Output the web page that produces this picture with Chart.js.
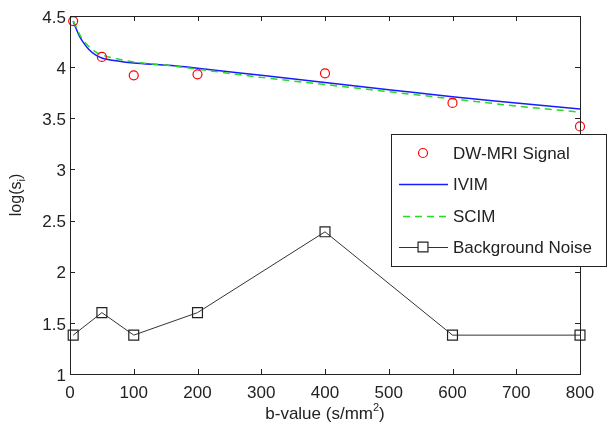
<!DOCTYPE html>
<html>
<head>
<meta charset="utf-8">
<script src="https://cdn.jsdelivr.net/npm/chart.js@4/dist/chart.umd.min.js"></script>
<style>
  html, body { margin: 0; padding: 0; background: #fff; overflow: hidden; }
  #plot { display: block; }
</style>
</head>
<body>
<canvas id="plot" width="610" height="430"></canvas>
<script>
// ---------- DATA ----------
const signalB = [5, 50, 100, 200, 400, 600, 800];
const signalVals = [4.45, 4.10, 3.92, 3.93, 3.94, 3.65, 3.42];

const curveB = [5, 10, 15, 20, 30, 40, 50, 75, 100, 150, 200, 300, 400, 500, 600, 700, 800];
const ivimVals = [4.45, 4.37, 4.30, 4.25, 4.17, 4.12, 4.09, 4.06, 4.04, 4.02, 3.99, 3.92, 3.85, 3.78, 3.71, 3.65, 3.59];
const scimVals = [4.45, 4.39, 4.32, 4.27, 4.20, 4.15, 4.12, 4.08, 4.05, 4.02, 3.98, 3.90, 3.83, 3.76, 3.69, 3.62, 3.56];

const noiseB = [5, 50, 100, 200, 400, 600, 800];
const noiseVals = [1.38, 1.60, 1.38, 1.60, 2.39, 1.38, 1.38];

const legendLabels = ["DW-MRI Signal", "IVIM", "SCIM", "Background Noise"];
const xTitle = "b-value (s/mm";
const yTitle = "log(s";

const FONT = "'Liberation Sans', Arial, sans-serif";
const FS = 17;
const INK = "#222";

const pts = (xs, ys) => xs.map((x, i) => ({ x, y: ys[i] }));

// ---------- box, inward ticks, titles, legend ----------
const matlabFrame = {
  id: "matlabFrame",
  afterDatasetsDraw(chart) {
    const { ctx, chartArea: a, scales } = chart;
    ctx.save();
    ctx.strokeStyle = INK;
    ctx.lineWidth = 1;
    ctx.strokeRect(Math.round(a.left) + 0.5, Math.round(a.top) + 0.5,
      Math.round(a.right - a.left), Math.round(a.bottom - a.top));

    const tl = 5;
    ctx.beginPath();
    scales.x.ticks.forEach(t => {
      const px = Math.round(scales.x.getPixelForValue(t.value)) + 0.5;
      ctx.moveTo(px, a.bottom); ctx.lineTo(px, a.bottom - tl);
      ctx.moveTo(px, a.top); ctx.lineTo(px, a.top + tl);
    });
    scales.y.ticks.forEach(t => {
      const py = Math.round(scales.y.getPixelForValue(t.value)) + 0.5;
      ctx.moveTo(a.left, py); ctx.lineTo(a.left + tl, py);
      ctx.moveTo(a.right, py); ctx.lineTo(a.right - tl, py);
    });
    ctx.stroke();

    // x title with superscript 2
    ctx.fillStyle = INK;
    ctx.textBaseline = "alphabetic";
    ctx.font = FS + "px " + FONT;
    const w1 = ctx.measureText(xTitle).width;
    ctx.font = "11px " + FONT;
    const w2 = ctx.measureText("2").width;
    ctx.font = FS + "px " + FONT;
    const w3 = ctx.measureText(")").width;
    let x0 = (a.left + a.right) / 2 - (w1 + w2 + w3) / 2;
    const yb = 419;
    ctx.textAlign = "left";
    ctx.fillText(xTitle, x0, yb);
    ctx.font = "11px " + FONT;
    ctx.fillText("2", x0 + w1, yb - 8);
    ctx.font = FS + "px " + FONT;
    ctx.fillText(")", x0 + w1 + w2, yb);

    // y title with subscript i
    ctx.save();
    ctx.translate(21, (a.top + a.bottom) / 2);
    ctx.rotate(-Math.PI / 2);
    ctx.font = "16px " + FONT;
    const v1 = ctx.measureText(yTitle).width;
    ctx.font = "11px " + FONT;
    const v2 = ctx.measureText("i").width;
    ctx.font = "16px " + FONT;
    const v3 = ctx.measureText(")").width;
    let s0 = -(v1 + v2 + v3) / 2;
    ctx.fillText(yTitle, s0, 0);
    ctx.font = "11px " + FONT;
    ctx.fillText("i", s0 + v1, 4);
    ctx.font = "16px " + FONT;
    ctx.fillText(")", s0 + v1 + v2, 0);
    ctx.restore();

    // legend
    const L = { left: 391, top: 134, right: 606, bottom: 266 };
    ctx.fillStyle = "#fff";
    ctx.fillRect(L.left, L.top, L.right - L.left, L.bottom - L.top);
    ctx.strokeStyle = INK;
    ctx.strokeRect(L.left + 0.5, L.top + 0.5, L.right - L.left, L.bottom - L.top);

    const rows = [153, 184, 216, 247];
    const ds = chart.data.datasets;
    ctx.font = FS + "px " + FONT;
    ctx.textBaseline = "middle";
    rows.forEach((ry, i) => {
      const d = ds[i];
      if (d.showLine !== false) {
        ctx.save();
        ctx.strokeStyle = d.borderColor;
        ctx.lineWidth = d.borderWidth;
        ctx.setLineDash(d.borderDash || []);
        ctx.beginPath();
        ctx.moveTo(i === 2 ? 403 : 399, ry + 0.5);
        ctx.lineTo(448, ry + 0.5);
        ctx.stroke();
        ctx.restore();
      }
      if (d.pointRadius > 0) {
        ctx.save();
        ctx.strokeStyle = d.pointBorderColor;
        ctx.lineWidth = d.pointBorderWidth;
        ctx.beginPath();
        if (d.pointStyle === "circle") {
          ctx.arc(423, ry, d.pointRadius, 0, Math.PI * 2);
        } else {
          const s = d.pointRadius * Math.SQRT1_2;
          ctx.rect(423 - s, ry - s, 2 * s, 2 * s);
        }
        ctx.fillStyle = "#fff";
        ctx.fill();
        ctx.stroke();
        ctx.restore();
      }
      ctx.fillStyle = INK;
      ctx.textAlign = "left";
      ctx.fillText(legendLabels[i], 453, ry + 1);
    });
    ctx.restore();
  }
};

new Chart(document.getElementById("plot"), {
  type: "scatter",
  data: {
    datasets: [
      {
        label: legendLabels[0],
        data: pts(signalB, signalVals),
        showLine: false,
        pointStyle: "circle",
        pointRadius: 4.5,
        pointBorderWidth: 1.2,
        pointBorderColor: "#ff0000",
        pointBackgroundColor: "rgba(0,0,0,0)",
        borderColor: "#ff0000",
        clip: false,
        order: 0
      },
      {
        label: legendLabels[1],
        data: pts(curveB, ivimVals),
        showLine: true,
        borderColor: "#1a1aff",
        borderWidth: 1.5,
        pointRadius: 0,
        cubicInterpolationMode: "monotone",
        order: 2
      },
      {
        label: legendLabels[2],
        data: pts(curveB, scimVals),
        showLine: true,
        borderColor: "#22dd22",
        borderWidth: 1.5,
        borderDash: [7, 5],
        pointRadius: 0,
        cubicInterpolationMode: "monotone",
        order: 1
      },
      {
        label: legendLabels[3],
        data: pts(noiseB, noiseVals),
        showLine: true,
        borderColor: "#333",
        borderWidth: 1,
        pointStyle: "rect",
        pointRadius: 7,
        pointBorderWidth: 1.2,
        pointBorderColor: "#222",
        pointBackgroundColor: "rgba(0,0,0,0)",
        tension: 0,
        clip: false,
        order: 3
      }
    ]
  },
  options: {
    responsive: false,
    animation: false,
    devicePixelRatio: 1,
    layout: { padding: { top: 16, right: 30, left: 0, bottom: 0 } },
    plugins: { legend: { display: false }, tooltip: { enabled: false } },
    scales: {
      x: {
        type: "linear",
        min: 0, max: 800,
        grid: { display: false, drawTicks: false },
        border: { display: false },
        ticks: { stepSize: 100, padding: 9, color: INK, font: { family: FONT, size: FS }, maxRotation: 0 },
        afterFit: s => { s.height = 56; }
      },
      y: {
        min: 1, max: 4.5,
        grid: { display: false, drawTicks: false },
        border: { display: false },
        ticks: { stepSize: 0.5, padding: 4, labelOffset: 2, color: INK, font: { family: FONT, size: FS }, callback: v => String(v) },
        afterFit: s => { s.width = 70; }
      }
    }
  },
  plugins: [matlabFrame]
});
</script>
</body>
</html>
